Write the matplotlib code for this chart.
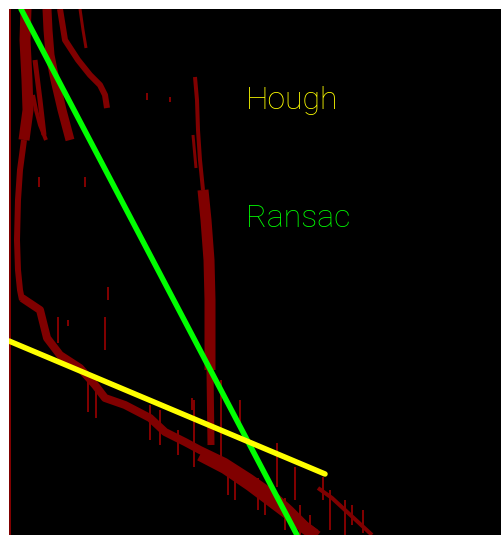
import matplotlib
matplotlib.use("Agg")
import matplotlib.pyplot as plt

# ---- detected edge structures (image pixel coordinates) ----
# each stroke: x list, y list, stroke width in pixels
left_border = ([10, 10], [9, 535], 2)

left_band_top = ([26, 25, 27, 28, 24], [9, 40, 80, 110, 140], 11)
left_band_low = ([24, 20, 18, 17, 18, 20, 22], [140, 170, 200, 240, 270, 290, 300], 6)
top_blob = ([47, 48, 50, 55, 62, 70], [9, 30, 55, 80, 110, 140], 9)
top_streak_a = ([60, 65, 78, 90, 100, 105, 107], [9, 40, 60, 75, 85, 95, 108], 6)
top_streak_b = ([80, 83, 86], [9, 30, 48], 3)
top_streak_c = ([35, 40, 44], [60, 100, 135], 5)
top_streak_d = ([33, 36, 40, 46], [95, 110, 125, 140], 4)

middle_band_top = ([195, 197, 198, 200, 203], [77, 100, 130, 160, 190], 4)
middle_band_mid = ([203, 206, 209, 210, 210], [190, 220, 260, 300, 370], 11)
middle_band_low = ([210, 211], [370, 445], 7)
middle_side = ([193, 196], [135, 168], 3)

lower_band = ([22, 40, 47, 60, 80, 95, 105, 125, 150, 165, 185, 200, 225, 250, 270, 290, 305, 318],
              [298, 310, 338, 355, 368, 385, 398, 405, 418, 432, 442, 450, 462, 478, 492, 510, 525, 535], 8)
lower_wide = ([200, 225, 250, 270, 290, 305, 315], [455, 468, 485, 500, 515, 528, 535], 12)
lower_tail = ([318, 332, 345, 358, 372], [488, 498, 510, 522, 535], 4)

# vertical streaks: x, top y, bottom y
streak_x = [108, 105, 58, 68, 192, 194, 221, 277, 295, 323, 363, 85, 39, 147, 150, 160, 178,
            240, 330, 345, 88, 96, 228, 235, 258, 265, 285, 300, 310, 352, 170]
streak_y0 = [287, 317, 317, 320, 398, 400, 380, 443, 467, 477, 510, 177, 177, 93, 405, 410, 430,
             400, 490, 500, 372, 380, 462, 468, 478, 485, 498, 505, 515, 505, 97]
streak_y1 = [300, 350, 343, 326, 410, 467, 460, 487, 500, 500, 533, 187, 187, 100, 440, 445, 455,
             430, 530, 535, 412, 418, 495, 500, 510, 515, 530, 535, 535, 525, 102]

# fitted lines
hough_x = [9, 325]
hough_y = [341, 474]
ransac_x = [21, 297]
ransac_y = [9, 535]

labels = ["Hough", "Ransac"]
label_x = [246, 246]
label_y = [109, 227]
label_colors = ["#ffff00", "#00ff00"]

EDGE = "#800000"
W, H = 502, 535
PT = 72 / 100  # points per pixel at dpi 100

fig = plt.figure(figsize=(W / 100, H / 100), dpi=100, facecolor="white")
ax = fig.add_axes([9 / W, 0, (W - 9) / W, (H - 9) / H])
ax.set_facecolor("black")
ax.set_xlim(9, W)
ax.set_ylim(H, 9)
ax.axis("off")
ax.add_patch(plt.Rectangle((9, 9), W, H, color="black", zorder=0))

strokes = [left_border, left_band_top, left_band_low, top_blob, top_streak_a,
           top_streak_b, top_streak_c, top_streak_d, middle_band_top, middle_band_mid,
           middle_band_low, middle_side, lower_band, lower_wide, lower_tail]
for xs, ys, w in strokes:
    ax.plot(xs, ys, color=EDGE, lw=w * PT, solid_capstyle="butt",
            solid_joinstyle="round", zorder=1)

for x, y0, y1 in zip(streak_x, streak_y0, streak_y1):
    ax.plot([x, x], [y0, y1], color=EDGE, lw=2 * PT, solid_capstyle="butt", zorder=1)

ax.plot(ransac_x, ransac_y, color="#00ff00", lw=5.5 * PT, solid_capstyle="round", zorder=3)
ax.plot(hough_x, hough_y, color="#ffff00", lw=5.5 * PT, solid_capstyle="round", zorder=4)

for t, x, y, c in zip(labels, label_x, label_y, label_colors):
    ax.text(x, y, t, color=c, fontsize=23, family=["Roboto", "DejaVu Sans"],
            fontweight="light", ha="left", va="baseline", zorder=5)

fig.savefig("out.png", dpi=100, facecolor="white")
